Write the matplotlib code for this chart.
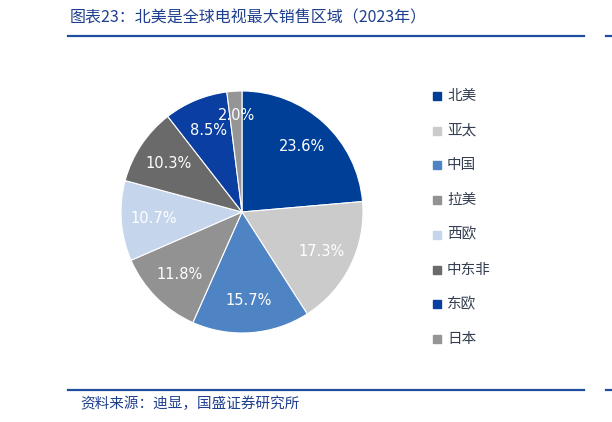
import matplotlib
matplotlib.use("Agg")
import matplotlib.pyplot as plt
from matplotlib.patches import Rectangle
from matplotlib.lines import Line2D

plt.rcParams['font.family'] = ['Noto Sans CJK SC', 'DejaVu Sans']

regions = ['北美', '亚太', '中国', '拉美', '西欧', '中东非', '东欧', '日本']
shares = [23.6, 17.3, 15.7, 11.8, 10.7, 10.3, 8.5, 2.0]
colors = ['#003F98', '#CBCBCB', '#4F84C4', '#929292', '#C4D5EC', '#6A6A6A', '#0A3EA0', '#959595']
title = '图表23：北美是全球电视最大销售区域（2023年）'
source = '资料来源：迪显，国盛证券研究所'

W, H = 612, 422
fig = plt.figure(figsize=(W / 100, H / 100), dpi=100)

def fx(x):
    return x / W

def fy(y):
    return 1 - y / H

blue = '#1F4E9E'
# title & source
fig.text(fx(70), fy(18), title, fontsize=11.5, color='#1F3F8F', style='italic',
         ha='left', va='center')
fig.text(fx(80), fy(404), source, fontsize=10.5, color='#1F3F8F', style='italic',
         ha='left', va='center')
for y in (36, 390):
    fig.add_artist(Line2D([fx(68), fx(584)], [fy(y), fy(y)], color=blue, lw=1.6))
    fig.add_artist(Line2D([fx(606), fx(612)], [fy(y), fy(y)], color=blue, lw=1.6))

# pie
cx, cy, r = 242, 212, 121
ax = fig.add_axes([fx(cx - r), fy(cy + r), 2 * r / W, 2 * r / H])
wedges, texts, autotexts = ax.pie(
    shares, colors=colors, startangle=90, counterclock=False,
    autopct='%1.1f%%', pctdistance=0.73,
    wedgeprops=dict(edgecolor='white', linewidth=0.8),
    textprops=dict(color='white', fontsize=10.5, family='DejaVu Sans'))
autotexts[-1].set_position((autotexts[-1].get_position()[0],
                            autotexts[-1].get_position()[1] * 1.1))
ax.set_aspect('equal')
ax.set_xlim(-1, 1)
ax.set_ylim(-1, 1)
ax.axis('off')

# legend
y0, dy = 96, 34.7
for i, (lab, c) in enumerate(zip(regions, colors)):
    y = y0 + i * dy
    fig.add_artist(Rectangle((fx(433), fy(y + 4)), 8 / W, 8 / H, color=c,
                             transform=fig.transFigure))
    fig.text(fx(447), fy(y), lab, fontsize=10.5, color='#333F50', ha='left', va='center')

fig.savefig('out.png', dpi=100)
